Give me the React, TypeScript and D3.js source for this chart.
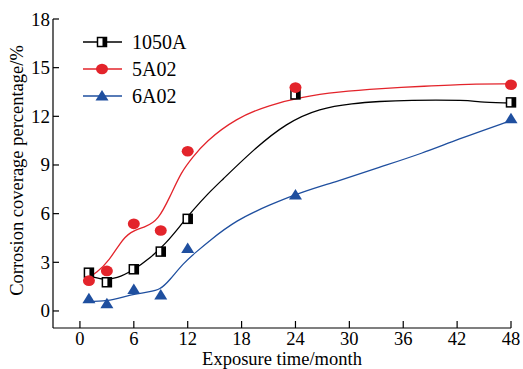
import React from 'react';
import * as d3 from 'd3';

// measured points
const months = [1, 3, 6, 9, 12, 24, 48];
const al1050A = [2.36, 1.77, 2.57, 3.66, 5.68, 13.35, 12.86];
const al5A02 = [1.87, 2.47, 5.37, 4.96, 9.85, 13.77, 13.95];
const al6A02 = [0.75, 0.45, 1.32, 0.98, 3.85, 7.15, 11.85];

// fitted trend curves as [month, value]
const fit1050A: [number, number][] = [
  [0.75, 2.22], [2.6, 1.9], [4.1, 2.0], [5.9, 2.5], [7.8, 3.25], [9.6, 4.18],
  [11.1, 5.2], [12.6, 6.23], [14.3, 7.26], [15.6, 7.95], [19.3, 9.94],
  [23, 11.6], [26.7, 12.5], [30.4, 12.8], [33.4, 12.92], [36.3, 13.0],
  [43.4, 13.0], [44.1, 12.88], [47.8, 12.82],
];
const fit5A02: [number, number][] = [
  [0.75, 2.0], [1.85, 2.33], [3.3, 3.15], [4.45, 4.18], [5.56, 4.9], [7.4, 5.2],
  [8.7, 5.6], [10, 7.0], [11.3, 8.6], [12.6, 9.5], [13.9, 10.4], [17.4, 11.9],
  [21.1, 12.7], [24.8, 13.2], [28.6, 13.5], [33.7, 13.72], [38.2, 13.85],
  [43.4, 14.0], [47.8, 14.0],
];
const fit6A02: [number, number][] = [
  [0.56, 0.58], [3, 0.58], [5.56, 0.99], [7.8, 1.19], [8.9, 1.3], [10, 1.9],
  [11.5, 2.94], [13, 3.66], [14.3, 4.28], [17.4, 5.6], [21.1, 6.54],
  [24.8, 7.36], [28.6, 7.98], [33.4, 8.87], [38.2, 9.73], [41.9, 10.55],
  [47.8, 11.7],
];

const xTicks = [0, 6, 12, 18, 24, 30, 36, 42, 48];
const yTicks = [0, 3, 6, 9, 12, 15, 18];
const seriesNames = ['1050A', '5A02', '6A02'];

const RED = '#e3242b';
const BLUE = '#1f4f9f';
const FONT = '"Liberation Serif", "Times New Roman", serif';

const Marker = ({ kind, cx, cy }: { kind: string; cx: number; cy: number }) => {
  if (kind === '1050A') {
    return (
      <g>
        <rect x={cx - 4.5} y={cy - 4.5} width={9} height={9} fill="#fff" stroke="#000" strokeWidth={1.5} />
        <rect x={cx + 0.5} y={cy - 4.5} width={4} height={9} fill="#000" />
      </g>
    );
  }
  if (kind === '5A02') {
    return <ellipse cx={cx} cy={cy} rx={6} ry={5.3} fill={RED} />;
  }
  return <path d={`M${cx},${cy - 6}L${cx + 6.5},${cy + 4.5}L${cx - 6.5},${cy + 4.5}Z`} fill={BLUE} />;
};

export default function App() {
  const width = 523;
  const height = 369;

  const x = d3.scaleLinear().domain([-3, 48]).range([53, 511]);
  const y = d3.scaleLinear().domain([-1.05, 18]).range([328, 19]);

  const line = d3.line<[number, number]>()
    .x(d => x(d[0]))
    .y(d => y(d[1]))
    .curve(d3.curveBasis);

  const series = [
    { name: '1050A', color: '#000', pts: al1050A, fit: fit1050A },
    { name: '5A02', color: RED, pts: al5A02, fit: fit5A02 },
    { name: '6A02', color: BLUE, pts: al6A02, fit: fit6A02 },
  ];

  const [x0, x1] = x.range();
  const [yb, yt] = y.range();

  return (
    <svg width={width} height={height} style={{ position: 'absolute', left: 0, top: 0 }} fontFamily={FONT}>
      <rect width={width} height={height} fill="#fff" />

      {/* axes */}
      <line x1={x0} y1={yb} x2={x1} y2={yb} stroke="#000" strokeWidth={1.2} />
      <line x1={x0} y1={yb} x2={x0} y2={yt} stroke="#000" strokeWidth={1.2} />
      {xTicks.map(t => (
        <g key={'x' + t}>
          <line x1={x(t)} x2={x(t)} y1={yb} y2={yb - 7} stroke="#000" strokeWidth={1.2} />
          <text x={x(t)} y={yb + 16.5} fontSize={18.5} textAnchor="middle">{t}</text>
        </g>
      ))}
      {yTicks.map(t => (
        <g key={'y' + t}>
          <line x1={x0} x2={x0 + 6} y1={y(t)} y2={y(t)} stroke="#000" strokeWidth={1.2} />
          <text x={x0 - 3} y={y(t) + 6.5} fontSize={19} textAnchor="end">{t}</text>
        </g>
      ))}
      <text x={(x0 + x1) / 2} y={365} fontSize={18.5} textAnchor="middle">Exposure time/month</text>
      <text
        transform={`translate(23,${(yb + yt) / 2 - 3}) rotate(-90)`}
        fontSize={18.5}
        textAnchor="middle"
      >
        Corrosion coverage percentage/%
      </text>

      {/* curves */}
      {series.map(s => (
        <path key={'c' + s.name} d={line(s.fit) || ''} fill="none" stroke={s.color} strokeWidth={1.3} />
      ))}

      {/* markers */}
      {series.map(s => (
        <g key={'m' + s.name}>
          {s.pts.map((v, i) => (
            <Marker key={i} kind={s.name} cx={x(months[i])} cy={y(v)} />
          ))}
        </g>
      ))}

      {/* legend */}
      {seriesNames.map((n, i) => {
        const ly = 42 + i * 27;
        const s = series[i];
        return (
          <g key={'l' + n}>
            <line x1={83} x2={122} y1={ly} y2={ly} stroke={s.color} strokeWidth={1.3} />
            <Marker kind={n} cx={102} cy={ly} />
            <text x={132} y={ly + 6.5} fontSize={20}>{n}</text>
          </g>
        );
      })}
    </svg>
  );
}
